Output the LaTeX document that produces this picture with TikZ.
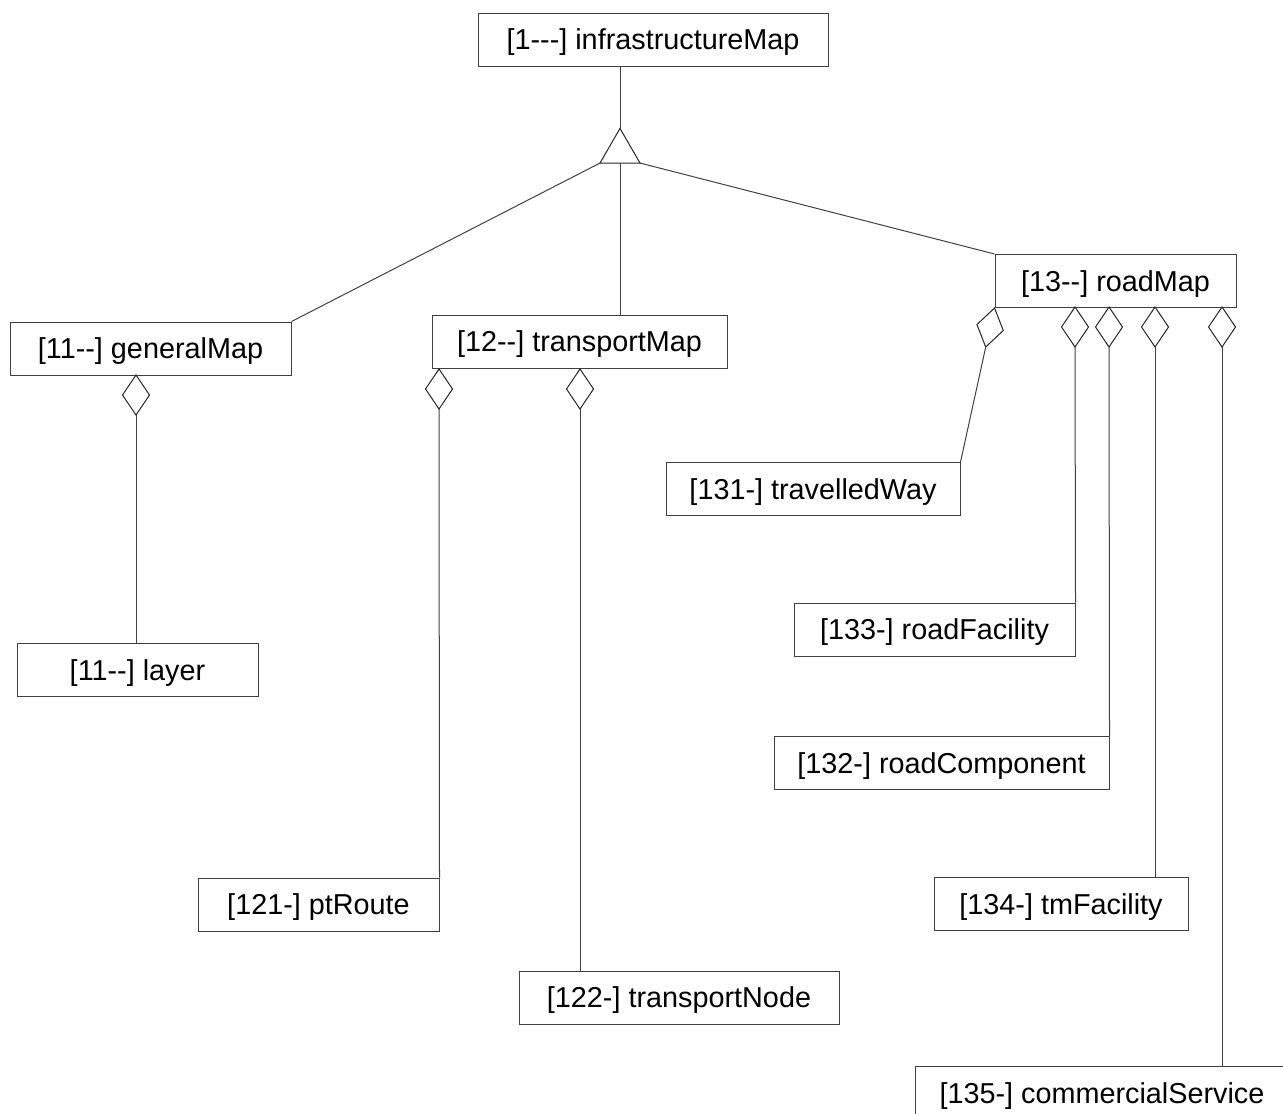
\documentclass[tikz,border=0pt]{standalone}
\usepackage{fontspec}
\setmainfont{Liberation Sans}[Ligatures=TeXOff]
\usetikzlibrary{shapes.geometric}
\tikzstyle{cls}=[shape=rectangle, draw=black!75, fill=white,
                  minimum height=26.5pt, inner sep=0pt,
                  text height=13pt, text depth=3pt,
                  font=\fontsize{14.4}{17}\selectfont]
\tikzstyle{agg}=[shape=diamond, draw=black!85, fill=white,
                  minimum width=13.5pt, minimum height=20pt,
                  inner sep=0pt, outer sep=0pt]
\tikzstyle{gen}=[regular polygon, regular polygon sides=3,
                  draw=black!85, minimum size=23.1pt,
                  inner sep=0pt, outer sep=0pt]
\tikzstyle{lnk}=[draw=black!75]

\begin{document}
\begin{tikzpicture}[line width=0.5pt, x=0.5pt, y=-0.5pt]
\clip (0,0) rectangle (1283,1113);

% nodes
\node[cls, minimum width=175pt] (infra) at (653,40) {[1---] infrastructureMap};
\node[cls, minimum width=140.5pt] (general) at (150.5,348.5) {[11--] generalMap};
\node[cls, minimum width=147.5pt] (transport) at (579.5,341.5) {[12--] transportMap};
\node[cls, minimum width=120.5pt] (road) at (1115.5,281) {[13--] roadMap};
\node[cls, minimum width=120.5pt] (layer) at (137.5,670) {[11--] layer};
\node[cls, minimum width=120.5pt] (ptroute) at (318.5,904.5) {[121-] ptRoute};
\node[cls, minimum width=160pt] (tnode) at (679,997.5) {[122-] transportNode};
\node[cls, minimum width=147pt] (tway) at (813,489) {[131-] travelledWay};
\node[cls, minimum width=140.5pt] (rfac) at (934.5,629.5) {[133-] roadFacility};
\node[cls, minimum width=167.5pt] (rcomp) at (941.5,763) {[132-] roadComponent};
\node[cls, minimum width=127pt] (tmfac) at (1061,904) {[134-] tmFacility};
\node[cls, minimum width=187pt] (cserv) at (1102,1093) {[135-] commercialService};

% generalisation triangle
\node[gen] (g1) at (620,151.5) {};

% aggregation diamonds
\node[agg, anchor=north] (a11) at (136,375) {};
\node[agg, anchor=north] (a121) at (439,369) {};
\node[agg, anchor=north] (a122) at (580,369) {};
\node[agg, anchor=north, rotate=-12.7] (a131) at (road.south west) {};
\node[agg, anchor=north] (a133) at (1075,307) {};
\node[agg, anchor=north] (a132) at (1109,307) {};
\node[agg, anchor=north] (a134) at (1155,307) {};
\node[agg, anchor=north] (a135) at (1222,307) {};

% paths
\path[lnk] (g1.north) edge (g1.north |- infra.south);
\path[lnk] (g1.corner 2) edge (general.north east);
\path[lnk] (g1.south) edge (g1.south |- transport.north);
\path[lnk] (g1.corner 3) edge (road.north west);
\path[lnk] (a11.south) edge (a11.south |- layer.north);
\path[lnk] (a121.south) edge (ptroute.north east);
\path[lnk] (a122.south) edge (a122.south |- tnode.north);
\path[lnk] (a131.south) edge (tway.north east);
\path[lnk] (a133.south) edge (rfac.north east);
\path[lnk] (a132.south) edge (rcomp.north east);
\path[lnk] (a134.south) edge (a134.south |- tmfac.north);
\path[lnk] (a135.south) edge (a135.south |- cserv.north);

\end{tikzpicture}
\end{document}
